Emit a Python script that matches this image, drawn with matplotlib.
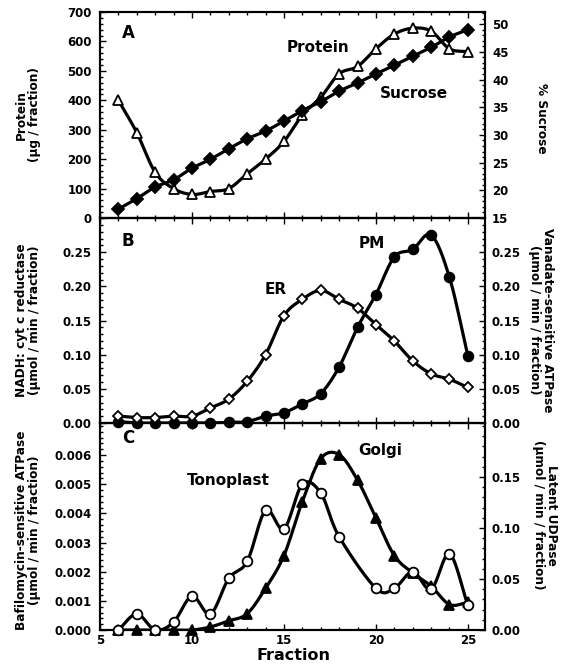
import numpy as np
import matplotlib
matplotlib.use("Agg")
import matplotlib.pyplot as plt
from matplotlib.ticker import MultipleLocator

plt.rcParams['font.family'] = ['DejaVu Sans']
plt.rcParams['font.weight'] = 'bold'

# fractions collected from the gradient
fraction = [6, 7, 8, 9, 10, 11, 12, 13, 14, 15, 16, 17, 18, 19, 20, 21, 22, 23, 24, 25]

# panel A
protein = [400, 290, 155, 100, 80, 90, 100, 150, 200, 260,
           350, 410, 490, 515, 575, 625, 645, 635, 575, 565]
sucrose = [16.6, 18.5, 20.6, 21.9, 24.0, 25.6, 27.5, 29.3, 30.7, 32.5,
           34.4, 36.0, 37.9, 39.4, 41.0, 42.6, 44.2, 45.8, 47.7, 49.0]

# panel B
er_nadh = [0.010, 0.008, 0.008, 0.010, 0.010, 0.022, 0.035, 0.061, 0.100, 0.157,
           0.181, 0.194, 0.181, 0.168, 0.144, 0.120, 0.091, 0.072, 0.064, 0.052]
pm_atpase = [0.002, 0.0, 0.0, 0.0, 0.0, 0.0, 0.001, 0.002, 0.010, 0.015,
             0.028, 0.043, 0.082, 0.140, 0.188, 0.243, 0.254, 0.275, 0.213, 0.098]

# panel C (tonoplast has no point at fraction 19)
tono_fraction = [6, 7, 8, 9, 10, 11, 12, 13, 14, 15, 16, 17, 18, 20, 21, 22, 23, 24, 25]
tonoplast = [0.0, 0.00055, 0.0, 0.00027, 0.00116, 0.00055, 0.00177, 0.00235, 0.0041, 0.00347,
             0.0050, 0.0047, 0.0032, 0.00143, 0.00143, 0.0020, 0.0014, 0.0026, 0.00085]
golgi = [0.0, 0.0, 0.0, 0.0, 0.0, 0.003, 0.009, 0.016, 0.041, 0.073,
         0.126, 0.168, 0.172, 0.147, 0.110, 0.073, 0.056, 0.043, 0.025, 0.027]


def smooth(x, y, n=16):
    # catmull-rom curve through the points, for the drawn line only
    x = np.asarray(x, float)
    y = np.asarray(y, float)
    px = np.concatenate([[2 * x[0] - x[1]], x, [2 * x[-1] - x[-2]]])
    py = np.concatenate([[2 * y[0] - y[1]], y, [2 * y[-1] - y[-2]]])
    t = np.linspace(0, 1, n, endpoint=False)
    xs, ys = [], []
    for i in range(1, len(px) - 2):
        for p, out in ((px, xs), (py, ys)):
            p0, p1, p2, p3 = p[i - 1], p[i], p[i + 1], p[i + 2]
            out.extend(0.5 * (2 * p1 + (p2 - p0) * t + (2 * p0 - 5 * p1 + 4 * p2 - p3) * t ** 2
                              + (3 * p1 - p0 - 3 * p2 + p3) * t ** 3))
    xs.append(x[-1])
    ys.append(y[-1])
    return xs, ys


def series(ax, x, y, marker, ms, filled):
    sx, sy = smooth(x, y)
    ax.plot(sx, sy, color='black', lw=2.3, zorder=3)
    ax.plot(x, y, ls='none', marker=marker, ms=ms, mec='black', mew=1.3,
            mfc='black' if filled else 'white', zorder=4, clip_on=False)


def style(ax, side):
    ax.tick_params(which='both', direction='in', labelsize=8.5, width=1.0)
    ax.tick_params(which='major', length=4.5)
    ax.tick_params(which='minor', length=2.5)
    if side == 'left':
        ax.tick_params(axis='y', left=True, right=False, pad=6)
        ax.tick_params(axis='x', which='both', top=True, bottom=True, labelbottom=False)
    else:
        ax.tick_params(axis='y', left=False, right=True, labelleft=False, labelright=True, pad=5)
    for s in ax.spines.values():
        s.set_linewidth(1.5)
    ax.xaxis.set_major_locator(MultipleLocator(5))
    ax.xaxis.set_minor_locator(MultipleLocator(1))
    ax.set_xlim(5, 25.93)


W, H = 563, 664
fig = plt.figure(figsize=(W / 100, H / 100), dpi=100)


def box(top, bottom):
    return [100 / W, 1 - bottom / H, 385 / W, (bottom - top) / H]


# ---- A ----
axA = fig.add_axes(box(12, 218))
axA2 = axA.twinx()
style(axA, 'left')
style(axA2, 'right')
axA.set_ylim(0, 700)
axA.yaxis.set_major_locator(MultipleLocator(100))
axA.yaxis.set_minor_locator(MultipleLocator(20))
axA2.set_ylim(15, 52.2)
axA2.set_yticks([15, 20, 25, 30, 35, 40, 45, 50])
axA2.yaxis.set_minor_locator(MultipleLocator(1))
series(axA, fraction, protein, '^', 7.5, False)
series(axA2, fraction, sucrose, 'D', 6, True)
axA.text(128, H - 33, 'A', transform=None, fontsize=12, ha='center', va='center')

# ---- B ----
axB = fig.add_axes(box(218, 423))
axB2 = axB.twinx()
style(axB, 'left')
style(axB2, 'right')
for a in (axB, axB2):
    a.set_ylim(0, 0.30)
    a.set_yticks([0, 0.05, 0.10, 0.15, 0.20, 0.25])
    a.yaxis.set_minor_locator(MultipleLocator(0.01))
    a.yaxis.set_major_formatter('{x:.2f}')
series(axB2, fraction, pm_atpase, 'o', 7, True)
series(axB, fraction, er_nadh, 'D', 5.5, False)
axB.set_zorder(axB2.get_zorder() + 1)
axB.patch.set_visible(False)

# ---- C ----
axC = fig.add_axes(box(423, 630))
axC2 = axC.twinx()
style(axC, 'left')
style(axC2, 'right')
axC.tick_params(axis='x', which='both', labelbottom=True, pad=3)
axC.set_ylim(0, 0.0071)
axC.set_yticks([0, 0.001, 0.002, 0.003, 0.004, 0.005, 0.006])
axC.yaxis.set_minor_locator(MultipleLocator(0.0002))
axC.yaxis.set_major_formatter('{x:.3f}')
axC2.set_ylim(0, 0.203)
axC2.set_yticks([0, 0.05, 0.10, 0.15])
axC2.yaxis.set_minor_locator(MultipleLocator(0.01))
axC2.yaxis.set_major_formatter('{x:.2f}')
series(axC2, fraction, golgi, '^', 6.5, True)
series(axC, tono_fraction, tonoplast, 'o', 7, False)
axC.set_zorder(axC2.get_zorder() + 1)
axC.patch.set_visible(False)


# texts in figure pixels (from the top)
def ftext(x, y, s, **kw):
    fig.text(x / W, 1 - y / H, s, ha='center', va='center', **kw)


ftext(318, 47, 'Protein', fontsize=11)
ftext(414, 94, 'Sucrose', fontsize=11)
ftext(128, 241, 'B', fontsize=12)
ftext(372, 243, 'PM', fontsize=11)
ftext(276, 290, 'ER', fontsize=11)
ftext(128, 438, 'C', fontsize=12)
ftext(228, 480, 'Tonoplast', fontsize=11)
ftext(380, 450, 'Golgi', fontsize=11)
ftext(293, 655, 'Fraction', fontsize=11.5)

lab = dict(fontsize=8.7, linespacing=1.05, multialignment='center')
ftext(28, 115, 'Protein\n(\u00b5g / fraction)', rotation=90, **lab)
ftext(28, 320, 'NADH: cyt c reductase\n(\u00b5mol / min / fraction)', rotation=90, **lab)
ftext(28, 530, 'Bafilomycin-sensitive ATPase\n(\u00b5mol / min / fraction)', rotation=90, **lab)
ftext(541, 118, '% Sucrose', rotation=270, **lab)
ftext(541, 320, 'Vanadate-sensitive ATPase\n(\u00b5mol / min / fraction)', rotation=270, **lab)
ftext(545, 515, 'Latent UDPase\n(\u00b5mol / min / fraction)', rotation=270, **lab)

fig.savefig('out.png', dpi=100)
